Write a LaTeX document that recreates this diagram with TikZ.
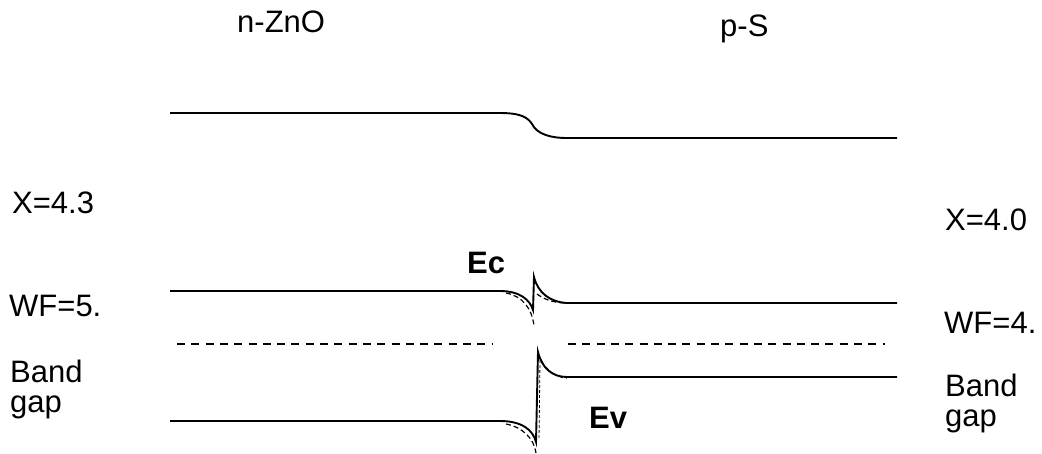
\documentclass[tikz,border=0pt]{standalone}
\usepackage{fontspec}
\setmainfont{Liberation Sans}
\begin{document}
\begin{tikzpicture}[x=1pt,y=-1pt,
  bandline/.style={line width=1.9pt},
  fermiline/.style={line width=1.5pt,dash pattern=on 8pt off 6.3pt},
  bendline/.style={line width=1.2pt,dash pattern=on 5pt off 3pt},
  lbl/.style={inner sep=0pt,anchor=base west,font=\fontsize{31}{30}\selectfont},
  blbl/.style={lbl,font=\fontsize{31}{30}\selectfont\bfseries}]
\useasboundingbox (0,0) rectangle (1042,453);
% labels
\node[lbl] (nzno) at (237,32) {n-ZnO};
\node[lbl] (ps) at (720,36) {p-S};
\node[lbl] (xl) at (12,213) {X=4.3};
\node[lbl] (wfl) at (9,316) {WF=5.};
\node[lbl,align=left] (bgl) at (10,412) {Band\\gap};
\node[lbl] (xr) at (945,230) {X=4.0};
\node[lbl] (wfr) at (944,333) {WF=4.};
\node[lbl,align=left] (bgr) at (945,426) {Band\\gap};
\node[blbl] (ec) at (467,273) {Ec};
\node[blbl] (ev) at (589,428) {Ev};
% vacuum level
\draw[bandline] (170,113) -- (500,113) .. controls (522,113) and (528,118) .. (532,124)
  .. controls (537,134) and (550,138) .. (567,138) -- (897,138);
% conduction band
\draw[bandline] (170,291) -- (500,291) .. controls (520,291) and (530,300) .. (533,310)
  -- (534,277) .. controls (538,293) and (550,302) .. (567,303) -- (897,303);
\draw[bendline] (506,293) .. controls (522,296) and (532,308) .. (534,326);
\draw[bendline] (537,294) .. controls (545,300) and (555,303) .. (567,303);
% Fermi level
\draw[fermiline] (177,344) -- (492,344);
\draw[fermiline] (568,344) -- (885,344);
% valence band
\draw[bandline] (170,421) -- (500,421) .. controls (522,421) and (533,430) .. (536,442)
  -- (538,352) .. controls (542,368) and (552,377) .. (567,377) -- (897,377);
\draw[bendline] (506,424) .. controls (522,427) and (534,438) .. (536,453);
\draw[bendline] (541,360) .. controls (546,370) and (555,377) .. (567,378);
\draw[line width=0.8pt,dash pattern=on 3pt off 2pt] (540,360) -- (539,440);
\end{tikzpicture}
\end{document}
